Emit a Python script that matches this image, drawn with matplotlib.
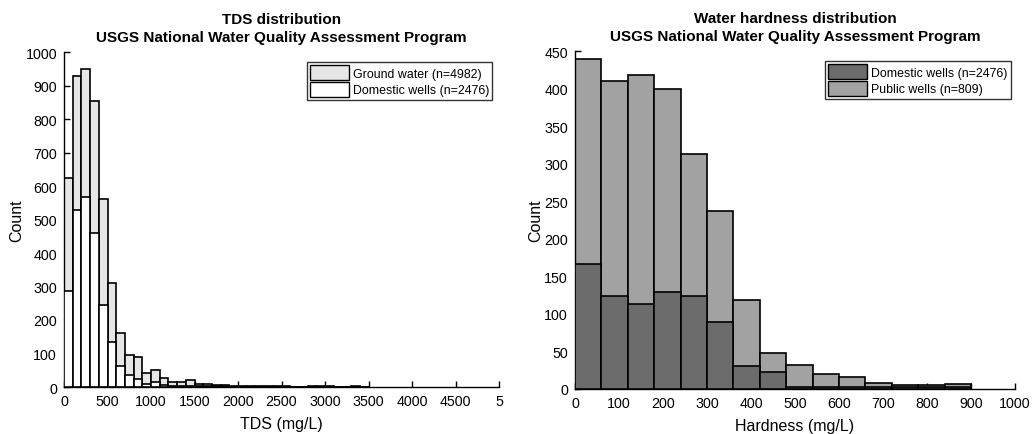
import numpy as np
import matplotlib
matplotlib.use("Agg")
import matplotlib.pyplot as plt
from matplotlib.patches import Patch

plt.rcParams['font.family'] = ['Liberation Sans', 'DejaVu Sans']

# ---------------- Data: TDS (left panel) ----------------
tds_bin_width = 100
tds_bin_left = [0, 100, 200, 300, 400, 500, 600, 700, 800, 900,
                1000, 1100, 1200, 1300, 1400, 1500, 1600, 1700, 1800, 1900,
                2000, 2100, 2200, 2300, 2400, 2500, 2600, 2700, 2800, 2900,
                3000, 3100, 3200, 3300, 3400]
ground_water = [625, 929, 950, 855, 562, 310, 160, 95, 90, 42,
                50, 28, 16, 14, 20, 10, 8, 5, 7, 3,
                4, 3, 4, 4, 4, 2, 1, 1, 4, 3,
                2, 1, 1, 2, 1]
domestic_tds = [288, 527, 566, 460, 245, 135, 62, 35, 24, 10,
                14, 6, 4, 3, 3, 2, 2, 2, 2, 1,
                1, 1, 1, 1, 1, 0, 0, 0, 1, 1,
                0, 0, 0, 0, 0]
tds_xticks = [0, 500, 1000, 1500, 2000, 2500, 3000, 3500, 4000, 4500, 5000]
tds_xticklabels = ['0', '500', '1000', '1500', '2000', '2500', '3000', '3500', '4000', '4500', '5']
tds_yticks = [0, 100, 200, 300, 400, 500, 600, 700, 800, 900, 1000]

# ---------------- Data: Hardness (right panel) ----------------
hard_bin_width = 60
hard_bin_left = [0, 60, 120, 180, 240, 300, 360, 420, 480, 540, 600, 660, 720, 780, 840]
domestic_hard = [440, 410, 418, 400, 313, 237, 119, 48, 32, 20, 16, 8, 5, 5, 7]
public_hard = [166, 124, 113, 129, 124, 89, 31, 22, 3, 2, 2, 2, 2, 2, 2]
hard_xticks = [0, 100, 200, 300, 400, 500, 600, 700, 800, 900, 1000]
hard_yticks = [0, 50, 100, 150, 200, 250, 300, 350, 400, 450]

W, H = 1034, 435
fig = plt.figure(figsize=(W / 100, H / 100), dpi=100)

ax1 = fig.add_axes([64 / W, 1 - 388 / H, (499 - 64) / W, (388 - 53) / H])
ax2 = fig.add_axes([575 / W, 1 - 390 / H, (1015 - 575) / W, (390 - 52) / H])

lw = 1.2
tfs = 10.3
lfs = 11.5

# Left panel
ax1.bar(tds_bin_left, ground_water, width=tds_bin_width, align='edge',
        color='#e6e6e6', edgecolor='black', linewidth=lw, zorder=2)
ax1.bar(tds_bin_left, domestic_tds, width=tds_bin_width, align='edge',
        color='white', edgecolor='black', linewidth=lw, zorder=3)
ax1.set_xlim(0, 5000)
ax1.set_ylim(0, 1000)
ax1.set_xticks(tds_xticks)
ax1.set_xticklabels(tds_xticklabels)
ax1.set_yticks(tds_yticks)
ax1.set_xlabel('TDS (mg/L)', fontsize=lfs, labelpad=6)
ax1.set_ylabel('Count', fontsize=lfs, labelpad=1)
ax1.set_title('TDS distribution\nUSGS National Water Quality Assessment Program',
              fontsize=11, fontweight='bold', pad=8, linespacing=1.35)
leg1 = ax1.legend(handles=[Patch(facecolor='#e6e6e6', edgecolor='black', label='Ground water (n=4982)'),
                           Patch(facecolor='white', edgecolor='black', label='Domestic wells (n=2476)')],
                  loc='upper right', bbox_to_anchor=(0.985, 0.97), fontsize=8.9, frameon=True,
                  fancybox=False, edgecolor='black', handlelength=3.2, handleheight=1.5,
                  handletextpad=0.3, borderpad=0.25, labelspacing=0.12, borderaxespad=0)
leg1.get_frame().set_linewidth(1.0)

# Right panel
ax2.bar(hard_bin_left, domestic_hard, width=hard_bin_width, align='edge',
        color='#a2a2a2', edgecolor='black', linewidth=lw, zorder=2)
ax2.bar(hard_bin_left, public_hard, width=hard_bin_width, align='edge',
        color='#6c6c6c', edgecolor='black', linewidth=lw, zorder=3)
ax2.set_xlim(0, 1000)
ax2.set_ylim(0, 450)
ax2.set_xticks(hard_xticks)
ax2.set_yticks(hard_yticks)
ax2.set_xlabel('Hardness (mg/L)', fontsize=lfs, labelpad=6)
ax2.set_ylabel('Count', fontsize=lfs, labelpad=1)
ax2.set_title('Water hardness distribution\nUSGS National Water Quality Assessment Program',
              fontsize=11, fontweight='bold', pad=8, linespacing=1.35)
leg2 = ax2.legend(handles=[Patch(facecolor='#6c6c6c', edgecolor='black', label='Domestic wells (n=2476)'),
                           Patch(facecolor='#a2a2a2', edgecolor='black', label='Public wells (n=809)')],
                  loc='upper right', bbox_to_anchor=(0.99, 0.97), fontsize=8.9, frameon=True,
                  fancybox=False, edgecolor='black', handlelength=3.2, handleheight=1.5,
                  handletextpad=0.3, borderpad=0.25, labelspacing=0.12, borderaxespad=0)
leg2.get_frame().set_linewidth(1.0)

for ax in (ax1, ax2):
    ax.spines['top'].set_visible(False)
    ax.spines['right'].set_visible(False)
    ax.spines['left'].set_linewidth(1.0)
    ax.spines['bottom'].set_linewidth(1.0)
    ax.tick_params(direction='in', length=4, width=1.0, labelsize=tfs, pad=5)

fig.savefig('out.png', dpi=100)
